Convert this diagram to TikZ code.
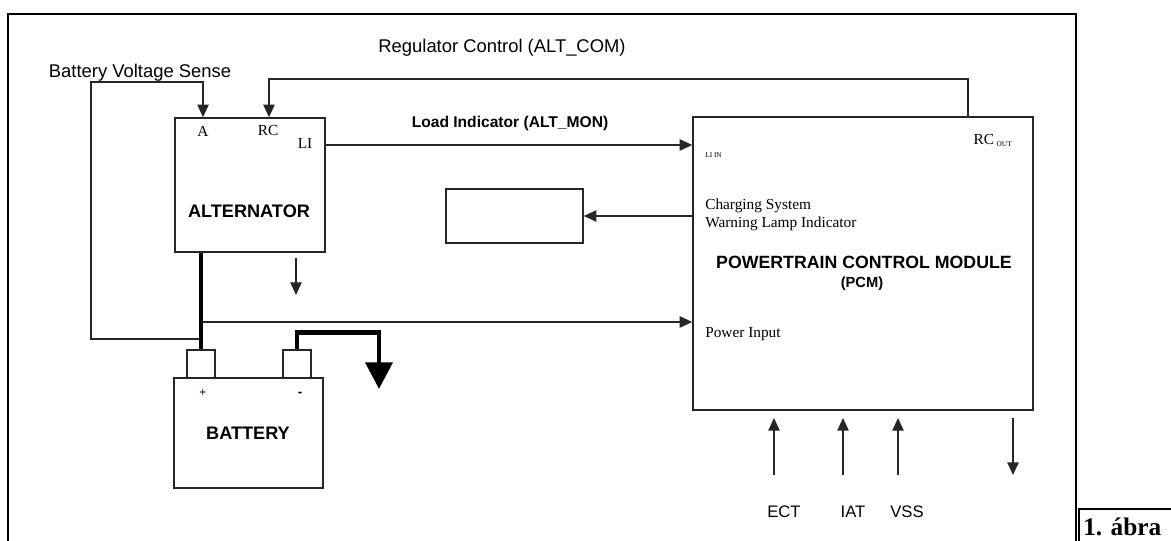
\documentclass[tikz,border=0pt]{standalone}
\usepackage{fontspec}
\setmainfont{Liberation Serif}
\setsansfont{Liberation Sans}
\usetikzlibrary{arrows.meta,calc}
\begin{document}
\begin{tikzpicture}[x=0.75pt,y=-0.75pt,
  ln/.style={draw=black!85, line width=1.1pt},
  arr/.style={ln, -{Triangle[length=9.5pt,width=8.5pt]}},
  wire/.style={draw=black, line width=3.6pt},
  box/.style={draw=black!85, line width=1.1pt, inner sep=0pt, minimum width={#1*0.75pt}},
  bh/.style={minimum height={#1*0.75pt}},
  sans/.style={font=\sffamily\fontsize{13.8}{15}\selectfont, inner sep=0pt},
  sansb/.style={font=\sffamily\bfseries\fontsize{13.6}{15}\selectfont, inner sep=0pt},
  serif/.style={font=\fontsize{11.5}{13.5}\selectfont, inner sep=0pt, align=left},
  pin/.style={font=\fontsize{11.5}{12}\selectfont, inner sep=0pt}
]
\useasboundingbox (0,0) rectangle (1171,541);
% outer frame
\draw[line width=1.6pt] (8,541) -- (8,14) -- (1076,14) -- (1076,541);
\draw[line width=1.4pt] (1079,545) -- (1079,509) -- (1180,509);
\node[anchor=west, inner sep=0pt, font=\bfseries\fontsize{19}{20}\selectfont] (fig) at (1083,527) {1. ábra};

% boxes
\node[box=150, bh=134] (alt) at (250,185) {};
\node[box=340, bh=293] (pcm) at (863,263.5) {};
\node[box=137, bh=54] (lamp) at (514.5,216) {};
\node[box=149, bh=110] (bat) at (248.5,433) {};
\node[box=28, bh=28] (tp) at (201,364) {};
\node[box=28, bh=28] (tn) at (297,364) {};

% texts
\node[sans] (regl) at (502,48) {Regulator Control (ALT\_COM)};
\node[sans] (bvsl) at (140,73) {Battery Voltage Sense};
\node[pin] (la) at (203,131) {A};
\node[pin] (lrc) at (268,131) {RC};
\node[pin] (lli) at (305,143) {LI};
\node[sansb] (altl) at (249,211) {ALTERNATOR};
\node[font=\sffamily\bfseries\fontsize{11.7}{13}\selectfont, inner sep=0pt] (loadl) at (510,123) {Load Indicator (ALT\_MON)};
\node[pin, anchor=base east] (rcout) at (1012,145) {RC\,\raisebox{-1.5pt}{\fontsize{5.5}{6}\selectfont OUT}};
\node[font=\fontsize{5.5}{6}\selectfont, inner sep=0pt, anchor=west] (liin) at (705,155) {LI IN};
\node[serif, anchor=north west] (chg) at (705,199) {Charging System\\Warning Lamp Indicator};
\node[font=\sffamily\bfseries\fontsize{13.3}{15}\selectfont, inner sep=0pt] (pcml) at (864,262) {POWERTRAIN CONTROL MODULE};
\node[font=\sffamily\bfseries\fontsize{11}{12}\selectfont, inner sep=0pt] (pcms) at (862,284) {(PCM)};
\node[serif, anchor=west] (pwr) at (705,334) {Power Input};
\node[font=\sffamily\fontsize{9}{10}\selectfont, inner sep=0pt] (plus) at (203,393) {+};
\node[font=\sffamily\bfseries\fontsize{10}{10}\selectfont, inner sep=0pt] (minus) at (300,394) {-};
\node[sansb] (batl) at (248,433) {BATTERY};
\node[sans, font=\sffamily\fontsize{12.5}{14}\selectfont] (ect) at (784,512) {ECT};
\node[sans, font=\sffamily\fontsize{12.5}{14}\selectfont] (iat) at (853,512) {IAT};
\node[sans, font=\sffamily\fontsize{12.5}{14}\selectfont] (vss) at (907,512) {VSS};

% helper coordinates
\coordinate (xA) at (203,0);
\coordinate (xRC) at (269,0);
\coordinate (xRO) at (968,0);
\coordinate (yReg) at (0,79);
\coordinate (yBvs) at (0,82);
\coordinate (li) at (325,145);
\coordinate (j1) at (202,339);
\coordinate (j2) at (202,322);
\coordinate (bvsc) at (91,339);
\coordinate (g1) at (296,258);
\coordinate (gnd) at (379,389);
\coordinate (e1) at (774,475);
\coordinate (i1) at (843,475);
\coordinate (v1) at (898,475);
\coordinate (o1) at (1013,418);

% connectors
\draw[arr] (pcm.north -| xRO) -- (xRO |- yReg) -| (alt.north -| xRC);
\draw[arr] (j1) -- (bvsc) |- (yBvs -| xA) -- (alt.north -| xA);
\draw[arr] (li) -- (pcm.west |- li);
\draw[arr] (pcm.west |- lamp.east) -- (lamp.east);
\draw[arr] (j2) -- (pcm.west |- j2);
\draw[arr] (g1) -- ++(0,37);
\draw[wire] (alt.south -| tp.north) -- (tp.north);
\draw[wire, -{Triangle[length=20pt,width=20pt]}] (tn.north) -- ++(0,-17) -| (gnd);
\draw[arr] (e1) -- ++(0,-57);
\draw[arr] (i1) -- ++(0,-57);
\draw[arr] (v1) -- ++(0,-57);
\draw[arr] (o1) -- ++(0,57);
\end{tikzpicture}
\end{document}
